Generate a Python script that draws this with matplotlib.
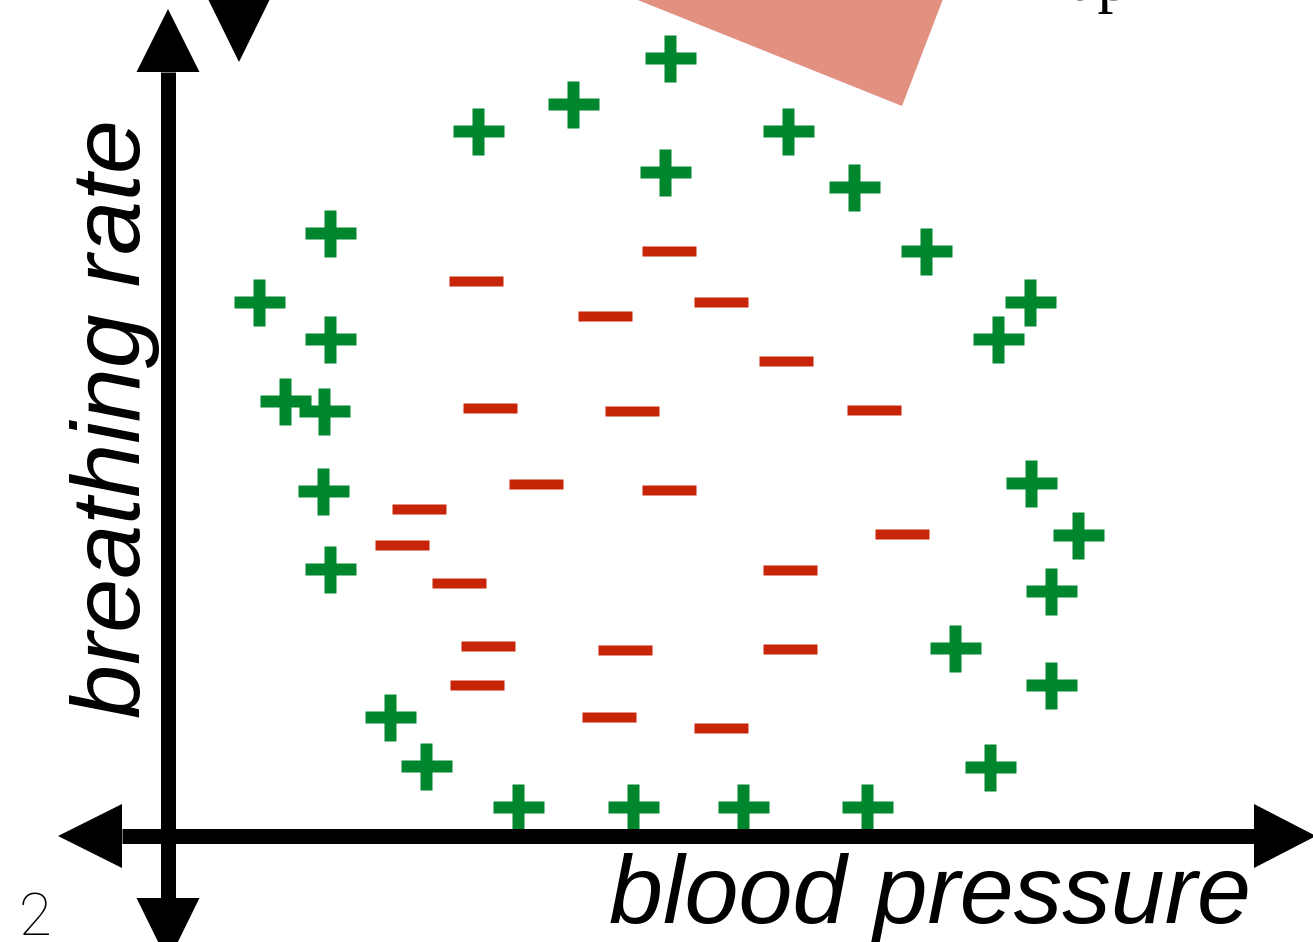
import numpy as np
import matplotlib
matplotlib.use("Agg")
import matplotlib.pyplot as plt
from matplotlib.path import Path
from matplotlib.patches import Polygon

# positive examples (+), blood pressure vs breathing rate
pos_x = [502, 405, 310, 620, 497, 686, 162, 758, 91, 862, 162, 830, 117, 156,
         155, 863, 910, 162, 883, 787, 883, 222, 258, 822, 350, 465, 575, 699]
pos_y = [778, 732, 705, 705, 664, 649, 603, 585, 534, 534, 497, 497, 435, 425,
         345, 353, 301, 267, 245, 188, 151, 119, 70, 69, 29, 29, 29, 29]

# negative examples (-)
neg_x = [501, 308, 437, 553, 618, 322, 464, 706, 368, 501, 251, 234, 734, 291,
         622, 320, 457, 622, 309, 441, 553]
neg_y = [585, 555, 520, 534, 475, 428, 425, 426, 352, 346, 327, 291, 302, 253,
         266, 190, 186, 187, 151, 119, 108]

x_label = "blood pressure"
y_label = "breathing rate"

green = "#00872d"
red = "#c82508"
salmon = "#e29180"

fig = plt.figure(figsize=(13.13, 9.42), dpi=100)
ax = fig.add_axes([0, 0, 1, 1])
ax.set_xlim(-168, 1145)
ax.set_ylim(-106, 836)
ax.axis("off")

px = 0.72  # points per pixel at dpi 100

# plus marker, 51 x 47 with 12 px arms
a, b, t = 25.5, 23.5, 6.0
plus_verts = [(-t, b), (t, b), (t, t), (a, t), (a, -t), (t, -t), (t, -b),
              (-t, -b), (-t, -t), (-a, -t), (-a, t), (-t, t), (-t, b)]
plus_marker = Path(plus_verts, closed=True)
minus_verts = [(-27, 5.5), (27, 5.5), (27, -5.5), (-27, -5.5), (-27, 5.5)]
minus_marker = Path(minus_verts, closed=True)

ax.plot(pos_x, pos_y, ls="none", marker=plus_marker, ms=51 * px,
        mfc=green, mec="none", zorder=3)
ax.plot(neg_x, neg_y, ls="none", marker=minus_marker, ms=54 * px,
        mfc=red, mec="none", zorder=3)

# salmon shape poking in from the panel above
ax.add_patch(Polygon([(370, 876), (734, 730), (790, 876)], closed=True,
                     fc=salmon, ec="none", zorder=1))

# axes with arrowheads
lw = 15 * px
ax.plot([-46, 1086], [0, 0], color="black", lw=lw, solid_capstyle="butt", zorder=4)
ax.plot([0, 0], [-62, 764], color="black", lw=lw, solid_capstyle="butt", zorder=4)
heads = [
    [(-110, 0), (-46, 32), (-46, -32)],
    [(1148, 0), (1086, 32), (1086, -32)],
    [(0, 827), (-31.5, 764), (31.5, 764)],
    [(0, -126), (-31.5, -62), (31.5, -62)],
    [(71, 774), (40, 837), (102, 837)],
]
for h in heads:
    ax.add_patch(Polygon(h, closed=True, fc="black", ec="none", zorder=4))

font = dict(family=["Liberation Sans", "DejaVu Sans"], style="italic")
xt = ax.text(441, -87, x_label, ha="left", va="baseline", fontsize=90 * px, **font)
yt = ax.text(-28, 118, y_label, ha="left", va="baseline", rotation=90,
             rotation_mode="anchor", fontsize=90 * px, **font)
ax.text(-149, -99, "2", ha="left", va="baseline", fontsize=60 * px,
        family=["Roboto", "DejaVu Sans"], weight="light")
ax.text(902, 836, "ap", ha="left", va="baseline", fontsize=64 * px,
        family=["Liberation Serif", "DejaVu Serif"])

# size the labels so they span the same length as in the original
fig.canvas.draw()
r = fig.canvas.get_renderer()
w = xt.get_window_extent(r).width
xt.set_fontsize(xt.get_fontsize() * 641 / w)
h = yt.get_window_extent(r).height
yt.set_fontsize(yt.get_fontsize() * 598 / h)

fig.savefig("out.png", dpi=100)
